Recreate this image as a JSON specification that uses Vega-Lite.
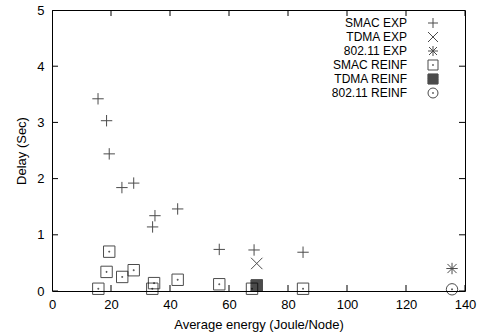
{
  "$schema": "https://vega.github.io/schema/vega-lite/v6.json",
  "width": 413,
  "height": 281,
  "autosize": {"type": "none"},
  "padding": {"left": 52, "top": 10, "right": 16, "bottom": 43},
  "background": "white",
  "config": {
    "font": "Liberation Sans",
    "view": {"stroke": "black", "strokeWidth": 1},
    "axis": {
      "grid": false,
      "labelFlush": false,
      "labelFontSize": 13,
      "labelColor": "black",
      "titleFontSize": 13,
      "titleFontWeight": "normal",
      "titleColor": "black"
    },
    "legend": {"labelFontSize": 12, "labelColor": "black"}
  },
  "resolve": {"axis": {"x": "independent", "y": "independent"}},
  "layer": [
    {
      "data": {
        "values": [
          {"series": "SMAC EXP", "energy": 15.6, "delay": 3.42},
          {"series": "SMAC EXP", "energy": 18.5, "delay": 3.03},
          {"series": "SMAC EXP", "energy": 19.4, "delay": 2.44},
          {"series": "SMAC EXP", "energy": 23.7, "delay": 1.84},
          {"series": "SMAC EXP", "energy": 27.7, "delay": 1.92},
          {"series": "SMAC EXP", "energy": 34.9, "delay": 1.34},
          {"series": "SMAC EXP", "energy": 34.1, "delay": 1.14},
          {"series": "SMAC EXP", "energy": 42.6, "delay": 1.46},
          {"series": "SMAC EXP", "energy": 56.7, "delay": 0.74},
          {"series": "SMAC EXP", "energy": 68.5, "delay": 0.73},
          {"series": "SMAC EXP", "energy": 85.1, "delay": 0.69},
          {"series": "TDMA EXP", "energy": 69.4, "delay": 0.49},
          {"series": "802.11 EXP", "energy": 135.6, "delay": 0.40},
          {"series": "SMAC REINF", "energy": 15.7, "delay": 0.04},
          {"series": "SMAC REINF", "energy": 19.4, "delay": 0.70},
          {"series": "SMAC REINF", "energy": 18.5, "delay": 0.34},
          {"series": "SMAC REINF", "energy": 23.8, "delay": 0.25},
          {"series": "SMAC REINF", "energy": 27.7, "delay": 0.37},
          {"series": "SMAC REINF", "energy": 34.6, "delay": 0.14},
          {"series": "SMAC REINF", "energy": 34.0, "delay": 0.04},
          {"series": "SMAC REINF", "energy": 42.6, "delay": 0.20},
          {"series": "SMAC REINF", "energy": 56.7, "delay": 0.12},
          {"series": "SMAC REINF", "energy": 67.8, "delay": 0.04},
          {"series": "SMAC REINF", "energy": 85.1, "delay": 0.04},
          {"series": "TDMA REINF", "energy": 69.4, "delay": 0.10},
          {"series": "802.11 REINF", "energy": 135.6, "delay": 0.03}
        ]
      },
      "mark": {"type": "point", "filled": false, "color": "black", "stroke": "black", "strokeWidth": 1, "size": 130},
      "encoding": {
        "x": {
          "field": "energy", "type": "quantitative",
          "scale": {"domain": [0, 140], "nice": false},
          "axis": {"title": "Average energy (Joule/Node)", "domain": false, "ticks": false, "values": [0, 20, 40, 60, 80, 100, 120, 140], "labelPadding": 7, "titlePadding": 7}
        },
        "y": {
          "field": "delay", "type": "quantitative",
          "scale": {"domain": [0, 5], "nice": false},
          "axis": {"title": "Delay (Sec)", "domain": false, "ticks": false, "values": [0, 1, 2, 3, 4, 5], "format": "d", "labelPadding": 8, "titlePadding": 8}
        },
        "shape": {
          "field": "series", "type": "nominal",
          "scale": {
            "domain": ["SMAC EXP", "TDMA EXP", "802.11 EXP", "SMAC REINF", "TDMA REINF", "802.11 REINF"],
            "range": [
              "M-1,0H1M0,-1V1",
              "M-1,-1L1,1M-1,1L1,-1",
              "M-1,0H1M0,-1V1M-0.8,-0.8L0.8,0.8M-0.8,0.8L0.8,-0.8",
              "M-1,-1H1V1H-1Z M-0.08,-0.08H0.08V0.08H-0.08Z",
              "M-1,-1H1V-0.9375H-1V-0.875H1V-0.8125H-1V-0.75H1V-0.6875H-1V-0.625H1V-0.5625H-1V-0.5H1V-0.4375H-1V-0.375H1V-0.3125H-1V-0.25H1V-0.1875H-1V-0.125H1V-0.0625H-1V0H1V0.0625H-1V0.125H1V0.1875H-1V0.25H1V0.3125H-1V0.375H1V0.4375H-1V0.5H1V0.5625H-1V0.625H1V0.6875H-1V0.75H1V0.8125H-1V0.875H1V0.9375H-1V1H1V-1M-1,-1V1",
              "M1,0A1,1,0,1,1,-1,0A1,1,0,1,1,1,0Z M-0.08,-0.08H0.08V0.08H-0.08Z"
            ]
          },
          "legend": {
            "title": null,
            "orient": "none",
            "legendX": 375,
            "legendY": 7,
            "padding": 0,
            "rowPadding": 0,
            "symbolSize": 100,
            "symbolStrokeColor": "black",
            "symbolStrokeWidth": 1,
            "labelAlign": "right",
            "labelOffset": -32,
            "labelLimit": 200
          }
        }
      }
    },
    {
      "data": {"values": [{"tick": 0}, {"tick": 20}, {"tick": 40}, {"tick": 60}, {"tick": 80}, {"tick": 100}, {"tick": 120}, {"tick": 140}]},
      "layer": [
        {
          "mark": {"type": "tick", "orient": "vertical", "size": 12, "thickness": 1, "color": "black", "opacity": 1, "clip": true},
          "encoding": {
            "x": {"field": "tick", "type": "quantitative", "axis": null},
            "y": {"datum": 0, "type": "quantitative", "axis": null}
          }
        },
        {
          "mark": {"type": "tick", "orient": "vertical", "size": 12, "thickness": 1, "color": "black", "opacity": 1, "clip": true},
          "encoding": {
            "x": {"field": "tick", "type": "quantitative", "axis": null},
            "y": {"datum": 5, "type": "quantitative", "axis": null}
          }
        }
      ]
    },
    {
      "data": {"values": [{"tick": 0}, {"tick": 1}, {"tick": 2}, {"tick": 3}, {"tick": 4}, {"tick": 5}]},
      "layer": [
        {
          "mark": {"type": "tick", "orient": "horizontal", "size": 12, "thickness": 1, "color": "black", "opacity": 1, "clip": true},
          "encoding": {
            "y": {"field": "tick", "type": "quantitative", "axis": null},
            "x": {"datum": 0, "type": "quantitative", "axis": null}
          }
        },
        {
          "mark": {"type": "tick", "orient": "horizontal", "size": 12, "thickness": 1, "color": "black", "opacity": 1, "clip": true},
          "encoding": {
            "y": {"field": "tick", "type": "quantitative", "axis": null},
            "x": {"datum": 140, "type": "quantitative", "axis": null}
          }
        }
      ]
    }
  ]
}
